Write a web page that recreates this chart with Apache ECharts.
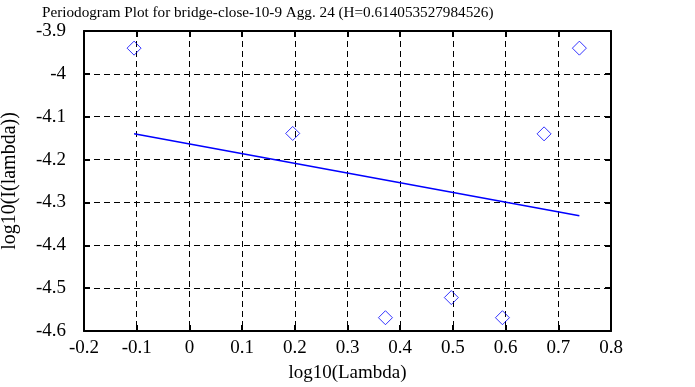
<!DOCTYPE html>
<html>
<head>
<meta charset="utf-8">
<script src="https://cdn.jsdelivr.net/npm/echarts@6/dist/echarts.min.js"></script>
<style>html,body{margin:0;padding:0;background:#fff}#c{width:695px;height:387px}</style>
</head>
<body>
<div id="c"></div>
<script>
const titleText = "Periodogram Plot for bridge-close-10-9 Agg. 24 (H=0.614053527984526)";
const xName = "log10(Lambda)";
const yName = "log10(I(lambda))";
const pointX = [-0.105, 0.196, 0.372, 0.497, 0.594, 0.673, 0.740];
const pointY = [-3.940, -4.139, -4.569, -4.522, -4.569, -4.140, -3.940];
const fitX = [-0.105, 0.740];
const fitY = [-4.140, -4.331];
const xRange = [-0.2, 0.8, 0.1];
const yRange = [-4.6, -3.9, 0.1];

const font = "Liberation Serif";
const chart = echarts.init(document.getElementById('c'), null, {renderer: 'canvas'});
const gridDash = {type: [6, 4], color: '#000', width: 1};
const axisBase = {
  axisLine: {show: true, onZero: false, lineStyle: {color: '#000', width: 2}},
  axisTick: {show: true, inside: true, length: 6, lineStyle: {color: '#000', width: 2}}
};
chart.setOption({
  animation: false,
  backgroundColor: '#fff',
  title: {text: titleText, left: 37, top: 1,
    textStyle: {fontFamily: font, fontWeight: 'normal', fontSize: 15.2, color: '#000'}},
  grid: {left: 84, right: 84, top: 31, bottom: 56, containLabel: false, outerBoundsMode: 'none'},
  xAxis: [
    Object.assign({type: 'value', min: xRange[0], max: xRange[1], interval: xRange[2],
      name: xName, nameLocation: 'middle', nameGap: 33,
      nameTextStyle: {fontFamily: font, fontSize: 19, color: '#000'},
      axisLabel: {fontFamily: font, fontSize: 19, color: '#000', margin: 8},
      splitLine: {show: true, lineStyle: gridDash}}, axisBase),
    Object.assign({type: 'value', position: 'top', min: xRange[0], max: xRange[1], interval: xRange[2],
      axisLabel: {show: false}, splitLine: {show: false}}, axisBase)
  ],
  yAxis: [
    Object.assign({type: 'value', min: yRange[0], max: yRange[1], interval: yRange[2],
      name: yName, nameLocation: 'middle', nameGap: 64,
      nameTextStyle: {fontFamily: font, fontSize: 20, color: '#000'},
      axisLabel: {fontFamily: font, fontSize: 19, color: '#000', margin: 18},
      splitLine: {show: true, lineStyle: gridDash}}, axisBase),
    Object.assign({type: 'value', position: 'right', min: yRange[0], max: yRange[1], interval: yRange[2],
      axisLabel: {show: false}, splitLine: {show: false}}, axisBase)
  ],
  series: [
    {type: 'line', data: fitX.map((x, i) => [x, fitY[i]]), symbol: 'none',
      lineStyle: {color: '#0000ff', width: 1.5}, z: 3},
    {type: 'scatter', data: pointX.map((x, i) => [x, pointY[i]]), symbol: 'diamond', symbolSize: 14,
      itemStyle: {color: 'rgba(0,0,0,0)', borderColor: '#0000ff', borderWidth: 1}, z: 4}
  ]
});
</script>
</body>
</html>
